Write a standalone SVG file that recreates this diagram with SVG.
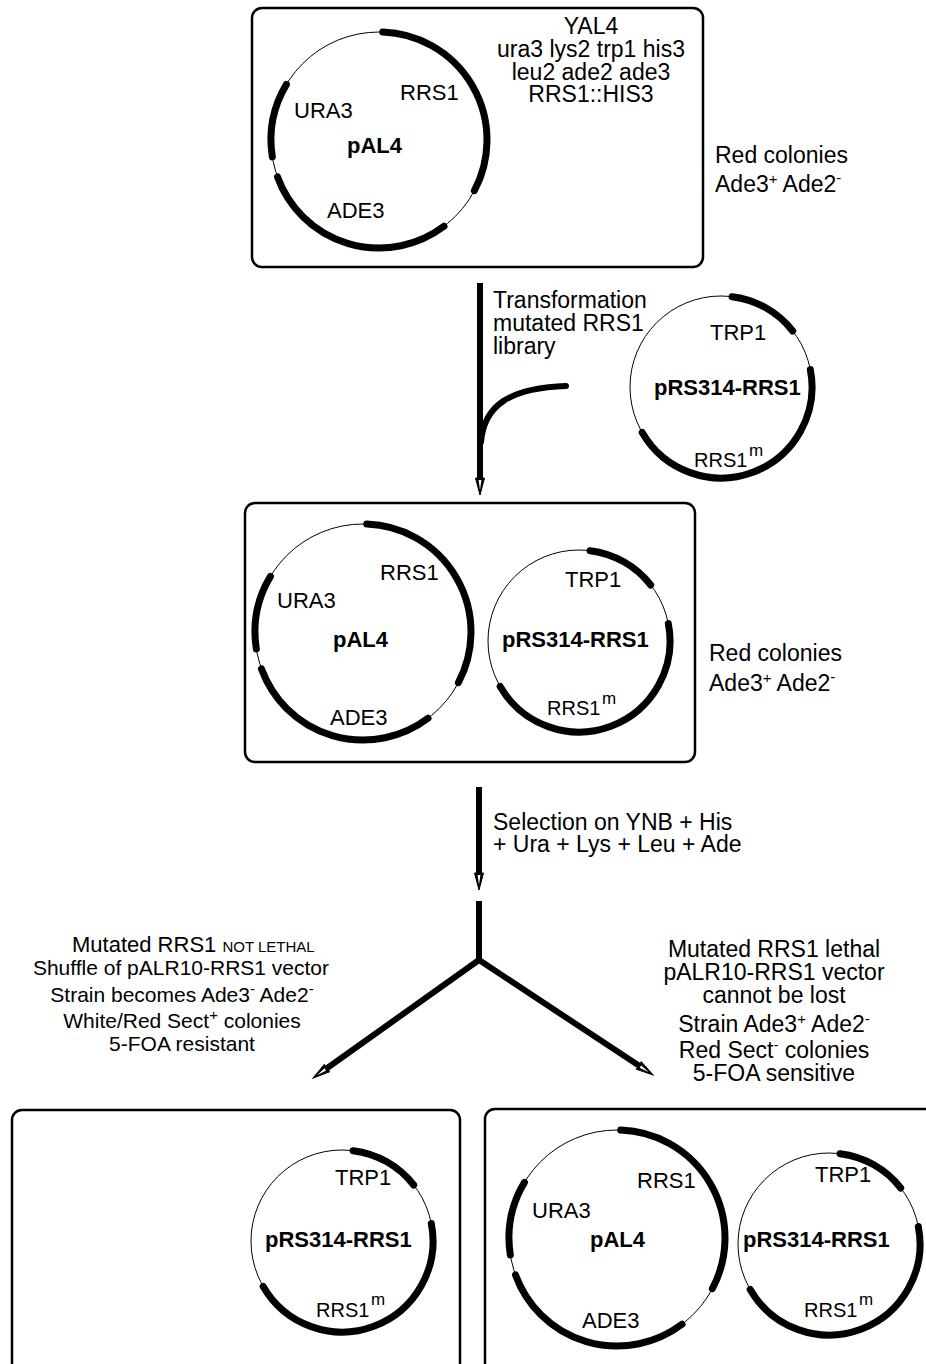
<svg xmlns="http://www.w3.org/2000/svg" width="926" height="1364" viewBox="0 0 926 1364">
<style>
.box{fill:none;stroke:#000;stroke-width:2.5}
.ring{fill:none;stroke:#000;stroke-width:1}
.gene{fill:none;stroke:#000;stroke-width:7;stroke-linecap:round}
.shaft{fill:none;stroke:#000;stroke-width:6}
text{font-family:"Liberation Sans",Arial,sans-serif;font-size:22px;fill:#000}
.t{font-size:23px}
.b{font-weight:bold}
.m{text-anchor:middle}
.sup{font-size:15px}
.rm{font-size:20px}
.mm{font-size:17px}
</style>
<defs>
<marker id="ah" markerUnits="userSpaceOnUse" markerWidth="20" markerHeight="12" refX="1" refY="6" orient="auto-start-reverse" viewBox="0 0 20 12">
<path d="M1,1.5 L18,6 L1,10.5 Z" fill="#000" stroke="#000" stroke-width="1" stroke-linejoin="miter"/>
<path d="M3,4.6 L13,6 L3,7.4 Z" fill="#fff"/>
</marker>
<g id="pal4ring">
<circle r="108" class="ring"/>
<path class="gene" d="M3.77,-107.93 A108,108 0 0 1 95.36,50.70"/>
<path class="gene" d="M65,86.25 A108,108 0 0 1 -101.49,36.94"/>
<path class="gene" d="M-106.67,16.89 A108,108 0 0 1 -92.57,-55.62"/>
</g>
<g id="prsring">
<circle r="91" class="ring"/>
<path class="gene" d="M11.09,-90.32 A91,91 0 0 1 71.71,-56.03"/>
<path class="gene" d="M89.33,-17.36 A91,91 0 0 1 -78.81,45.5"/>
</g>
</defs>
<rect width="926" height="1364" fill="#fff"/>

<g id="connectors">
<line class="shaft" x1="480" y1="283" x2="480" y2="478" marker-end="url(#ah)"/>
<path d="M481,442 C484,405 510,388 566,386" fill="none" stroke="#000" stroke-width="6" stroke-linecap="round"/>
<line class="shaft" x1="479" y1="787" x2="479" y2="873" marker-end="url(#ah)"/>
<line class="shaft" x1="479" y1="901" x2="479" y2="962"/>
<path class="shaft" d="M326.9,1068.2 L479,960 L638.8,1065.6" stroke-linejoin="miter" marker-start="url(#ah)" marker-end="url(#ah)"/>
</g>

<g id="label-transformation">
<text class="t" x="493" y="308">Transformation</text>
<text class="t" x="493" y="331">mutated RRS1</text>
<text class="t" x="493" y="354">library</text>
</g>
<g id="label-selection">
<text class="t" x="493" y="830">Selection on YNB + His</text>
<text class="t" x="493" y="852">+ Ura + Lys + Leu + Ade</text>
</g>

<g id="box-yal4">
<rect class="box" x="252" y="8" width="451" height="259" rx="10"/>
<use href="#pal4ring" x="379" y="140"/>
<text x="400" y="100">RRS1</text>
<text x="294" y="118">URA3</text>
<text class="b" x="347" y="153">pAL4</text>
<text x="327" y="218">ADE3</text>
<text class="m t" x="591" y="34">YAL4</text>
<text class="m t" x="591" y="57">ura3 lys2 trp1 his3</text>
<text class="m t" x="591" y="80">leu2 ade2 ade3</text>
<text class="m t" x="591" y="102">RRS1::HIS3</text>
</g>
<g id="note-top">
<text class="t" x="715" y="163">Red colonies</text>
<text class="t" x="715" y="192">Ade3<tspan class="sup" dy="-8">+</tspan><tspan dy="8"> Ade2</tspan><tspan class="sup" dy="-9">-</tspan></text>
</g>

<g id="plasmid-library">
<use href="#prsring" x="721" y="387"/>
<text x="710" y="340">TRP1</text>
<text class="b" x="654" y="395">pRS314-RRS1</text>
<text class="rm" x="694" y="467">RRS1</text>
<text class="mm" x="749" y="456">m</text>
</g>

<g id="box-transformed">
<rect class="box" x="245" y="503" width="450" height="259" rx="10"/>
<use href="#pal4ring" x="363" y="632"/>
<text x="380" y="580">RRS1</text>
<text x="277" y="608">URA3</text>
<text class="b" x="333" y="647">pAL4</text>
<text x="330" y="725">ADE3</text>
<use href="#prsring" x="579" y="641"/>
<text x="565" y="587">TRP1</text>
<text class="b" x="502" y="647">pRS314-RRS1</text>
<text class="rm" x="547" y="715">RRS1</text>
<text class="mm" x="602" y="704">m</text>
</g>
<g id="note-middle">
<text class="t" x="709" y="661">Red colonies</text>
<text class="t" x="709" y="691">Ade3<tspan class="sup" dy="-8">+</tspan><tspan dy="8"> Ade2</tspan><tspan class="sup" dy="-9">-</tspan></text>
</g>

<g id="note-left">
<text x="72" y="952">Mutated  RRS1 <tspan style="font-size:15px">NOT LETHAL</tspan></text>
<text class="m" x="181" y="975" style="font-size:21px">Shuffle of pALR10-RRS1 vector</text>
<text class="m" x="182" y="1002" style="font-size:21px">Strain becomes Ade3<tspan class="sup" dy="-8">-</tspan><tspan dy="8"> Ade2</tspan><tspan class="sup" dy="-8">-</tspan></text>
<text class="m" x="182" y="1028" style="font-size:21px">White/Red Sect<tspan class="sup" dy="-8">+</tspan><tspan dy="8"> colonies</tspan></text>
<text class="m" x="182" y="1051" style="font-size:21px">5-FOA resistant</text>
</g>
<g id="note-right">
<text class="m t" x="774" y="957">Mutated RRS1 lethal</text>
<text class="m t" x="774" y="980">pALR10-RRS1 vector</text>
<text class="m t" x="774" y="1003">cannot be lost</text>
<text class="m t" x="774" y="1032">Strain Ade3<tspan class="sup" dy="-8">+</tspan><tspan dy="8"> Ade2</tspan><tspan class="sup" dy="-8">-</tspan></text>
<text class="m t" x="774" y="1058">Red Sect<tspan class="sup" dy="-8">-</tspan><tspan dy="8"> colonies</tspan></text>
<text class="m t" x="774" y="1081">5-FOA sensitive</text>
</g>

<g id="box-shuffled">
<rect class="box" x="12" y="1110" width="448" height="300" rx="10"/>
<use href="#prsring" x="342" y="1241"/>
<text x="335" y="1185">TRP1</text>
<text class="b" x="265" y="1247">pRS314-RRS1</text>
<text class="rm" x="316" y="1317">RRS1</text>
<text class="mm" x="371" y="1305">m</text>
</g>

<g id="box-lethal">
<rect class="box" x="485" y="1109" width="460" height="300" rx="10"/>
<use href="#pal4ring" x="617" y="1238"/>
<text x="637" y="1188">RRS1</text>
<text x="532" y="1218">URA3</text>
<text class="b" x="590" y="1247">pAL4</text>
<text x="582" y="1328">ADE3</text>
<use href="#prsring" x="829" y="1244"/>
<text x="815" y="1182">TRP1</text>
<text class="b" x="743" y="1247">pRS314-RRS1</text>
<text class="rm" x="804" y="1317">RRS1</text>
<text class="mm" x="859" y="1305">m</text>
</g>
</svg>
